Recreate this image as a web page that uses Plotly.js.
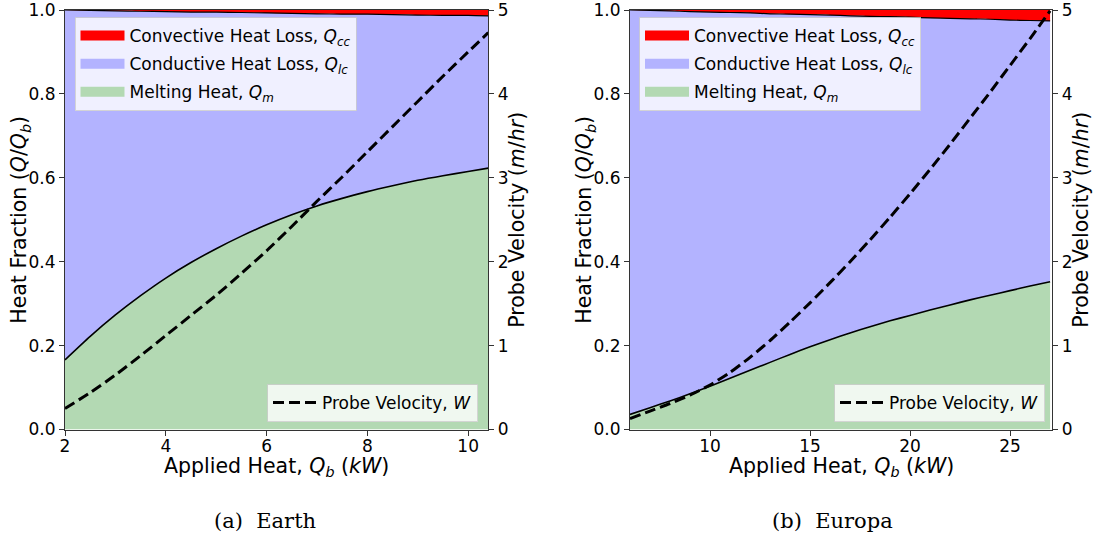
<!DOCTYPE html>
<html>
<head>
<meta charset="utf-8">
<script src="https://cdn.plot.ly/plotly-3.0.1.min.js"></script>
<style>html,body{margin:0;padding:0;background:#fff;}#chart{width:1095px;height:538px;}</style>
</head>
<body>
<div id="chart"></div>
<script>
// ---- Earth panel data ----
const earthQb  = [2, 2.5, 3, 3.5, 4, 4.5, 5, 5.5, 6, 6.5, 7, 7.5, 8, 8.5, 9, 9.5, 10, 10.4];
const earthQm  = [0.166, 0.222, 0.273, 0.319, 0.361, 0.398, 0.431, 0.461, 0.488, 0.512, 0.533, 0.551, 0.567, 0.581, 0.594, 0.605, 0.615, 0.623];
const earthQcc = [0.000, 0.001, 0.002, 0.003, 0.004, 0.005, 0.005, 0.006, 0.007, 0.008, 0.009, 0.010, 0.010, 0.011, 0.012, 0.013, 0.013, 0.014];
const earthW   = [0.25, 0.44, 0.65, 0.88, 1.12, 1.36, 1.60, 1.86, 2.13, 2.42, 2.72, 3.01, 3.31, 3.61, 3.91, 4.21, 4.50, 4.73];

// ---- Europa panel data ----
const europaQb  = [6, 7, 8, 9, 10, 11, 12, 13, 14, 15, 16, 17, 18, 19, 20, 21, 22, 23, 24, 25, 26, 27];
const europaQm  = [0.036, 0.052, 0.068, 0.085, 0.103, 0.122, 0.141, 0.160, 0.179, 0.197, 0.214, 0.230, 0.245, 0.259, 0.272, 0.285, 0.297, 0.309, 0.320, 0.331, 0.342, 0.352];
const europaQcc = [0.000, 0.001, 0.002, 0.004, 0.005, 0.006, 0.007, 0.009, 0.010, 0.011, 0.012, 0.014, 0.015, 0.016, 0.017, 0.019, 0.020, 0.021, 0.022, 0.024, 0.025, 0.026];
const europaW   = [0.13, 0.22, 0.31, 0.41, 0.53, 0.68, 0.86, 1.06, 1.28, 1.51, 1.75, 2.00, 2.26, 2.53, 2.81, 3.10, 3.40, 3.71, 4.02, 4.34, 4.66, 4.99];

// ---- labels ----
const seriesNames = {
  cc: 'Convective Heat Loss, <i>Q<sub>cc</sub></i>',
  lc: 'Conductive Heat Loss, <i>Q<sub>lc</sub></i>',
  m:  'Melting Heat, <i>Q<sub>m</sub></i>',
  w:  'Probe Velocity, <i>W</i>'
};
const xTitle  = 'Applied Heat, <i>Q<sub>b</sub></i> (<i>kW</i>)';
const yTitle  = 'Heat Fraction (<i>Q</i>/<i>Q<sub>b</sub></i>)';
const y2Title = 'Probe Velocity (<i>m</i>/<i>hr</i>)';
const captions = ['(a)\u00a0\u00a0Earth', '(b)\u00a0\u00a0Europa'];

const GREEN = 'rgb(179,217,179)', BLUE = 'rgb(179,179,255)', RED = 'rgb(255,0,0)';
const FONT = 'DejaVu Sans';

function legendPatch(name, color, lg, rank, xa, ya) {
  // legend-only entry drawn as a thick bar (like a matplotlib patch)
  return {x: [null], y: [null], xaxis: xa, yaxis: ya, type: 'scatter', mode: 'lines', name: name,
    legend: lg, legendrank: rank, legendgroup: lg + rank, line: {color: color, width: 12}, hoverinfo: 'skip'};
}

function panel(qb, qm, qcc, w, xa, ya, ya2, lgA, lgB) {
  const top = qcc.map(v => 1 - v);
  const one = qb.map(() => 1);
  return [
    {x: qb, y: qm, xaxis: xa, yaxis: ya, type: 'scatter', mode: 'lines', fill: 'tozeroy',
     fillcolor: GREEN, line: {width: 0, shape: 'spline', smoothing: 0.6}, showlegend: false, hoverinfo: 'skip'},
    {x: qb, y: top, xaxis: xa, yaxis: ya, type: 'scatter', mode: 'lines', fill: 'tonexty',
     fillcolor: BLUE, line: {width: 0, shape: 'spline', smoothing: 0.6}, showlegend: false, hoverinfo: 'skip'},
    {x: qb, y: one, xaxis: xa, yaxis: ya, type: 'scatter', mode: 'lines', fill: 'tonexty',
     fillcolor: RED, line: {width: 0}, showlegend: false, hoverinfo: 'skip'},
    {x: qb, y: qm, xaxis: xa, yaxis: ya, type: 'scatter', mode: 'lines', showlegend: false,
     line: {color: '#000', width: 1.6, shape: 'spline', smoothing: 0.6}},
    {x: qb, y: top, xaxis: xa, yaxis: ya, type: 'scatter', mode: 'lines', showlegend: false,
     line: {color: '#000', width: 1.2, shape: 'spline', smoothing: 0.6}},
    {x: qb, y: w, xaxis: xa, yaxis: ya2, type: 'scatter', mode: 'lines', name: seriesNames.w,
     legend: lgB, line: {color: '#000', width: 3, dash: '11px,5px', shape: 'spline', smoothing: 0.6}},
    legendPatch(seriesNames.cc, RED, lgA, 1, xa, ya),
    legendPatch(seriesNames.lc, BLUE, lgA, 2, xa, ya),
    legendPatch(seriesNames.m, GREEN, lgA, 3, xa, ya)
  ];
}

const data = [].concat(
  panel(earthQb, earthQm, earthQcc, earthW, 'x', 'y', 'y2', 'legend', 'legend2'),
  panel(europaQb, europaQm, europaQcc, europaW, 'x2', 'y3', 'y4', 'legend3', 'legend4')
);

const X1 = [65/1095, 488.3/1095], X2 = [630/1095, 1052.3/1095];
const YD = [(538-429.5)/538, (538-10)/538];

const axBase = {
  showgrid: false, zeroline: false, showline: true, linecolor: '#333', linewidth: 1,
  ticks: 'outside', ticklen: 5, tickwidth: 1, tickcolor: '#333', ticklabeloverflow: 'allow',
  tickfont: {family: FONT, size: 17, color: '#000'}
};
const tFont = {family: FONT, size: 20.5, color: '#000'};

function xax(dom, range, dtick, anchor) {
  return Object.assign({}, axBase, {domain: dom, range: range, dtick: dtick, tick0: 0, anchor: anchor,
    mirror: true, ticklabelstandoff: -4});
}
function yax(range, dtick, anchor, fmt) {
  return Object.assign({}, axBase, {domain: YD, range: range, dtick: dtick, tick0: 0, anchor: anchor,
    tickformat: fmt});
}
function y2ax(anchor, overlay) {
  return Object.assign({}, axBase, {domain: YD, range: [0, 5], dtick: 1, tick0: 0, anchor: anchor,
    overlaying: overlay, side: 'right'});
}

const lgBase = {bgcolor: 'rgba(255,255,255,0.8)', bordercolor: 'rgba(204,204,204,0.8)', borderwidth: 1,
  font: {family: FONT, size: 17, color: '#000'}, traceorder: 'grouped', tracegroupgap: 3, itemwidth: 44};

function ann(text, xpx, ypx, angle, font) {
  return {text: text, xref: 'paper', yref: 'paper', x: xpx/1095, y: (538-ypx)/538,
    xanchor: 'center', yanchor: 'middle', textangle: angle, showarrow: false, font: font};
}
const capFont = {family: 'DejaVu Serif', size: 21, color: '#000'};
const yMid = (10 + 429.5) / 2;

const layout = {
  width: 1095, height: 538, margin: {l: 0, r: 0, t: 0, b: 0},
  paper_bgcolor: '#fff', plot_bgcolor: '#fff', showlegend: true,
  xaxis: xax(X1, [2, 10.4], 2, 'y'),
  yaxis: yax([0, 1], 0.2, 'x', '.1f'),
  yaxis2: y2ax('x', 'y'),
  xaxis2: xax(X2, [6, 27.11], 5, 'y3'),
  yaxis3: yax([0, 1], 0.2, 'x2', '.1f'),
  yaxis4: y2ax('x2', 'y3'),
  legend:  Object.assign({}, lgBase, {x: 74.5/1095, y: (538-17)/538, xanchor: 'left', yanchor: 'top'}),
  legend2: Object.assign({}, lgBase, {x: 478/1095, y: (538-422)/538, xanchor: 'right', yanchor: 'bottom'}),
  legend3: Object.assign({}, lgBase, {x: 639/1095, y: (538-17)/538, xanchor: 'left', yanchor: 'top'}),
  legend4: Object.assign({}, lgBase, {x: 1045/1095, y: (538-422)/538, xanchor: 'right', yanchor: 'bottom'}),
  annotations: [
    ann(xTitle, 276.6, 467, 0, tFont),
    ann(xTitle, 841, 467, 0, tFont),
    ann(yTitle, 20, yMid, -90, tFont),
    ann(yTitle, 585, yMid, -90, tFont),
    ann(y2Title, 517, yMid, -90, tFont),
    ann(y2Title, 1081, yMid, -90, tFont),
    ann(captions[0], 265, 521, 0, capFont),
    ann(captions[1], 833, 521, 0, capFont)
  ]
};

Plotly.newPlot('chart', data, layout, {displayModeBar: false, staticPlot: true});
</script>
</body>
</html>
